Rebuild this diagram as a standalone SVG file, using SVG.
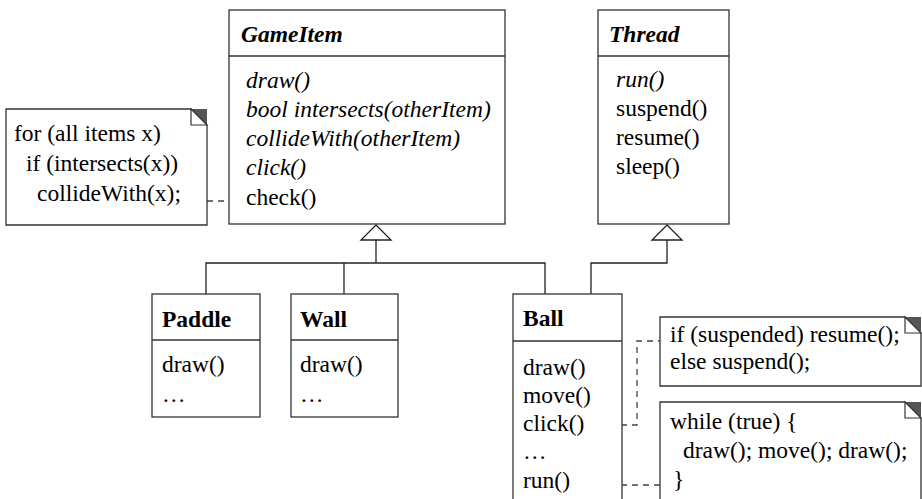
<svg xmlns="http://www.w3.org/2000/svg" width="922" height="499" viewBox="0 0 922 499">
<style>
  .box { fill: #fff; stroke: #333; stroke-width: 1.3; }
  .div { stroke: #333; stroke-width: 1.3; fill: none; }
  .line { stroke: #222; stroke-width: 1.3; fill: none; }
  .dash { stroke: #444; stroke-width: 1.3; fill: none; stroke-dasharray: 6 5; }
  .tri { fill: #fff; stroke: #222; stroke-width: 1.3; }
  .fold { fill: #555; }
  .foldw { fill: #fff; stroke: #333; stroke-width: 1.2; }
  text { font-family: "Liberation Serif", "Times New Roman", serif; font-size: 23.5px; fill: #000; }
  .title { font-weight: bold; }
  .abs { font-style: italic; }
</style>
<rect width="922" height="499" fill="#fff"/>

<g id="connectors">
  <path class="line" d="M206 294 V263 H545 V294"/>
  <path class="line" d="M344 263 V294"/>
  <path class="line" d="M376 240 V263"/>
  <polygon class="tri" points="376,225 361,240 391,240"/>
  <path class="line" d="M591 294 V263 H667 V240"/>
  <polygon class="tri" points="667,225 652,240 682,240"/>
  <path class="dash" d="M207 201 H243"/>
  <path class="dash" d="M599 425 H637 V341 H660"/>
  <path class="dash" d="M599 485 H660"/>
</g>

<g id="GameItem">
  <rect class="box" x="229" y="10" width="276" height="214"/>
  <line class="div" x1="229" y1="56" x2="505" y2="56"/>
  <text class="title abs" x="241" y="42">GameItem</text>
  <text class="abs" x="246" y="88">draw()</text>
  <text class="abs" x="246" y="117">bool intersects(otherItem)</text>
  <text class="abs" x="246" y="146">collideWith(otherItem)</text>
  <text class="abs" x="246" y="175">click()</text>
  <text x="246" y="205">check()</text>
</g>

<g id="Thread">
  <rect class="box" x="598" y="10" width="131" height="214"/>
  <line class="div" x1="598" y1="56" x2="729" y2="56"/>
  <text class="title abs" x="609" y="42">Thread</text>
  <text class="abs" x="616" y="87">run()</text>
  <text x="616" y="116">suspend()</text>
  <text x="616" y="145">resume()</text>
  <text x="616" y="174">sleep()</text>
</g>

<g id="note-check">
  <path class="box" d="M6 109 H191 L207 125 V225 H6 Z"/>
  <polygon class="fold" points="191,109 207,109 207,125"/>
  <polygon class="foldw" points="191,109 191,125 207,125"/>
  <text x="14" y="141">for (all items x)</text>
  <text x="26" y="171">if (intersects(x))</text>
  <text x="37" y="201">collideWith(x);</text>
</g>

<g id="Paddle">
  <rect class="box" x="152" y="294" width="108" height="123"/>
  <line class="div" x1="152" y1="340" x2="260" y2="340"/>
  <text class="title" x="162" y="327">Paddle</text>
  <text x="162" y="372">draw()</text>
  <text x="162" y="402">…</text>
</g>

<g id="Wall">
  <rect class="box" x="291" y="294" width="107" height="123"/>
  <line class="div" x1="291" y1="340" x2="398" y2="340"/>
  <text class="title" x="300" y="327">Wall</text>
  <text x="300" y="372">draw()</text>
  <text x="300" y="402">…</text>
</g>

<g id="Ball">
  <rect class="box" x="513" y="294" width="109" height="215"/>
  <line class="div" x1="513" y1="341" x2="622" y2="341"/>
  <text class="title" x="523" y="326">Ball</text>
  <text x="523" y="375">draw()</text>
  <text x="523" y="403">move()</text>
  <text x="523" y="431">click()</text>
  <text x="523" y="459">…</text>
  <text x="523" y="488">run()</text>
</g>

<g id="note-click">
  <path class="box" d="M660 317 H905 L921 333 V386 H660 Z"/>
  <polygon class="fold" points="905,317 921,317 921,333"/>
  <polygon class="foldw" points="905,317 905,333 921,333"/>
  <text x="670" y="342">if (suspended) resume();</text>
  <text x="670" y="369">else suspend();</text>
</g>

<g id="note-run">
  <path class="box" d="M660 402 H905 L921 418 V510 H660 Z"/>
  <polygon class="fold" points="905,402 921,402 921,418"/>
  <polygon class="foldw" points="905,402 905,418 921,418"/>
  <text x="670" y="429">while (true) {</text>
  <text x="683" y="458">draw(); move(); draw();</text>
  <text x="673" y="487">}</text>
</g>
</svg>
